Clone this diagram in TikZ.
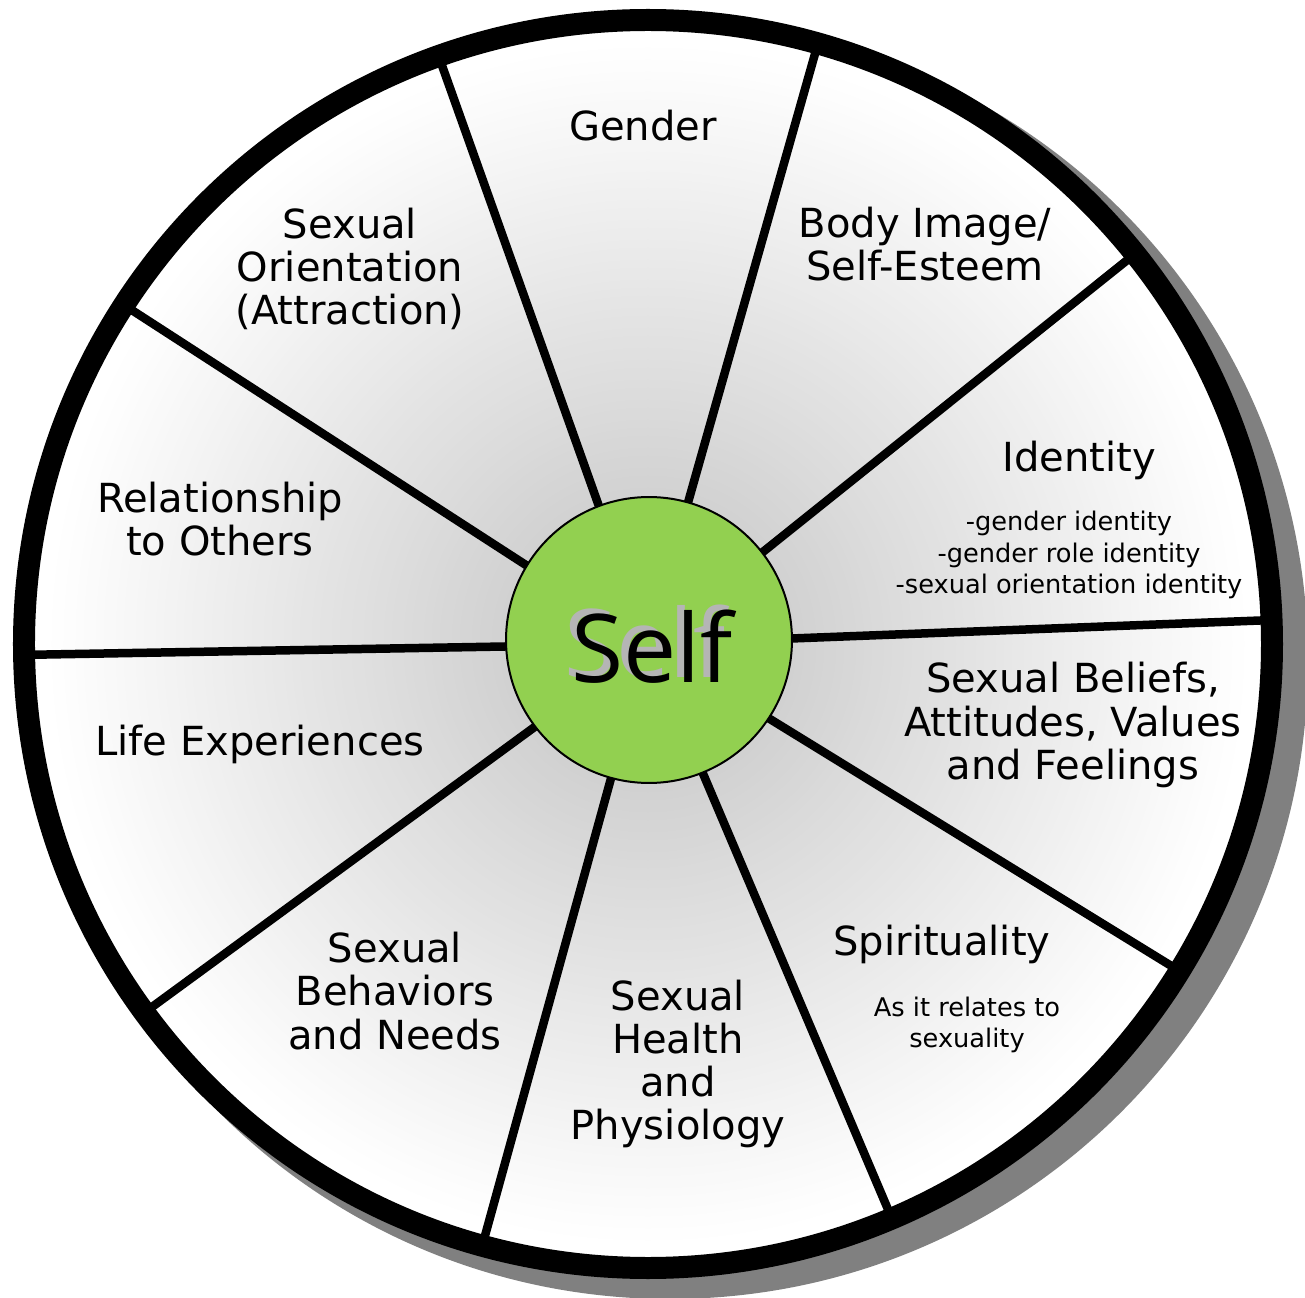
\documentclass[tikz,border=0pt]{standalone}
\usepackage{fontspec}
\setmainfont{DejaVu Sans}
\newfontfamily\selffont{Open Sans}
\usetikzlibrary{positioning}

\definecolor{selfgreen}{HTML}{92D050}

\begin{document}
\begin{tikzpicture}[
        x=0.02cm, y=0.02cm,
        spoke/.style={line width=0.17cm, black},
        rim/.style={line width=0.44cm, black},
        topic/.style={align=center, inner sep=0, font=\fontsize{22.8}{24.6}\selectfont},
        note/.style={align=center, inner sep=0, font=\fontsize{14.6}{17.9}\selectfont},
        hub/.style={circle, draw=black, line width=0.04cm, fill=selfgreen, minimum size=5.72cm, inner sep=0},
        selftext/.style={inner sep=0, font=\selffont\fontsize{54}{54}\selectfont}
    ]
        \useasboundingbox (-648,-654) rectangle (657,644);
        \coordinate (centre) at (0,0);

        % shadow
        \fill[black!50] (22,-17) circle (638);

        % wheel, grey towards the middle
        \foreach \r in {624,620,...,140} {
            \pgfmathsetmacro{\g}{max(0, 18*(600-\r)/455)}
            \fill[black!\g] (centre) circle (\r);
        }

        % spokes
        \foreach \a in {2.2, 38.7, 74.2, 109.6, 147.1, 181, 216.2, 254.6, 293, 328.4} {
            \draw[spoke] (centre) -- (\a:624);
        }
        \draw[rim] (centre) circle (624);

        % hub with Self
        \node[hub] (self) at (1,4) {};
        \node[selftext, text=black!29] (self-shadow) at (-3,2) {Self};
        \node[selftext] (self-text) at (4,-3) {Self};

        % topics
        \node[topic] (gender) at (-5,518) {Gender};
        \node[topic] (body) at (277,400) {Body Image/\\Self-Esteem};
        \node[topic] (identity) at (431,184) {Identity};
        \node[note] (identity-note) at (421,89) {-gender identity\\-gender role identity\\-sexual orientation identity};
        \node[topic] (beliefs) at (425,-81) {Sexual Beliefs,\\Attitudes, Values\\and Feelings};
        \node[topic] (spirit) at (294,-300) {Spirituality};
        \node[note] (spirit-note) at (319,-381) {As it relates to\\sexuality};
        \node[topic] (health) at (30,-420) {Sexual\\Health\\and\\Physiology};
        \node[topic] (behaviour) at (-253,-347) {Sexual\\Behaviors\\and Needs};
        \node[topic] (life) at (-388,-100) {Life Experiences};
        \node[topic] (others) at (-428,125) {Relationship\\to Others};
        \node[topic] (orientation) at (-298,375) {Sexual\\Orientation\\(Attraction)};
    \end{tikzpicture}
\end{document}
